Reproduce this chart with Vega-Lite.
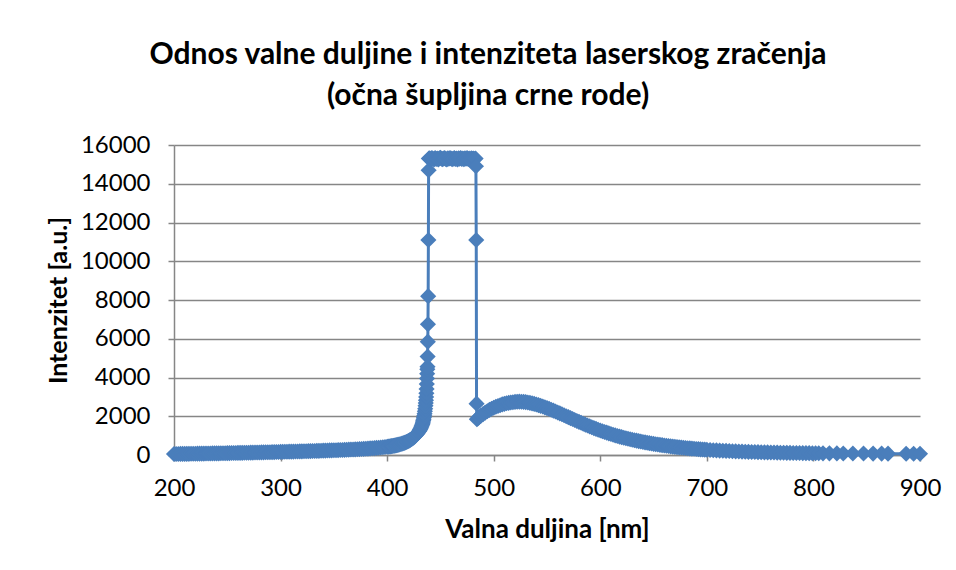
{
  "$schema": "https://vega.github.io/schema/vega-lite/v6.json",
  "autosize": {"type": "none"},
  "width": 746,
  "height": 310,
  "padding": {"left": 174, "top": 145, "right": 36, "bottom": 115},
  "background": "white",
  "config": {
    "view": {"stroke": null},
    "font": "Lato",
    "axis": {
      "labelFont": "Lato",
      "titleFont": "Lato",
      "labelColor": "#000000",
      "titleColor": "#000000",
      "domainColor": "#868686",
      "tickColor": "#868686",
      "gridColor": "#868686",
      "domainWidth": 1.5,
      "tickWidth": 1.5,
      "gridWidth": 1.5
    }
  },
  "title": {
    "text": ["Odnos valne duljine i intenziteta laserskog zračenja", "(očna šupljina crne rode)"],
    "font": "Lato",
    "fontSize": 30,
    "fontWeight": "bold",
    "color": "#000000",
    "anchor": "middle",
    "lineHeight": 41,
    "dx": -59,
    "offset": 22
  },
  "data": {
    "values": [
      {"w":200,"i":50},{"w":202,"i":52},{"w":204,"i":53},{"w":206,"i":55},{"w":208,"i":56},{"w":210,"i":58},{"w":212,"i":59},{"w":214,"i":61},{"w":216,"i":63},{"w":218,"i":64},
      {"w":220,"i":66},{"w":222,"i":68},{"w":224,"i":70},{"w":226,"i":71},{"w":228,"i":73},{"w":230,"i":75},{"w":232,"i":77},{"w":234,"i":79},{"w":236,"i":81},{"w":238,"i":83},
      {"w":240,"i":85},{"w":242,"i":87},{"w":244,"i":89},{"w":246,"i":91},{"w":248,"i":93},{"w":250,"i":96},{"w":252,"i":98},{"w":254,"i":100},{"w":256,"i":102},{"w":258,"i":104},
      {"w":260,"i":107},{"w":262,"i":109},{"w":264,"i":112},{"w":266,"i":114},{"w":268,"i":117},{"w":270,"i":119},{"w":272,"i":122},{"w":274,"i":124},{"w":276,"i":127},{"w":278,"i":129},
      {"w":280,"i":132},{"w":282,"i":134},{"w":284,"i":137},{"w":286,"i":140},{"w":288,"i":142},{"w":290,"i":145},{"w":292,"i":148},{"w":294,"i":150},{"w":296,"i":153},{"w":298,"i":156},
      {"w":300,"i":159},{"w":302,"i":162},{"w":304,"i":165},{"w":306,"i":168},{"w":308,"i":171},{"w":310,"i":174},{"w":312,"i":177},{"w":314,"i":180},{"w":316,"i":183},{"w":318,"i":186},
      {"w":320,"i":189},{"w":322,"i":192},{"w":324,"i":196},{"w":326,"i":199},{"w":328,"i":202},{"w":330,"i":206},{"w":332,"i":209},{"w":334,"i":213},{"w":336,"i":216},{"w":338,"i":220},
      {"w":340,"i":224},{"w":342,"i":228},{"w":344,"i":232},{"w":346,"i":236},{"w":348,"i":240},{"w":350,"i":244},{"w":352,"i":248},{"w":354,"i":252},{"w":356,"i":257},{"w":358,"i":261},
      {"w":360,"i":266},{"w":362,"i":271},{"w":364,"i":276},{"w":366,"i":281},{"w":368,"i":286},{"w":370,"i":292},{"w":372,"i":298},{"w":374,"i":304},{"w":376,"i":310},{"w":378,"i":317},
      {"w":380,"i":324},{"w":382,"i":331},{"w":384,"i":339},{"w":386,"i":347},{"w":388,"i":356},{"w":390,"i":365},{"w":392,"i":375},{"w":394,"i":386},{"w":396,"i":398},{"w":398,"i":411},
      {"w":400,"i":425},{"w":401,"i":432},{"w":402,"i":440},{"w":403,"i":448},{"w":404,"i":457},{"w":405,"i":466},{"w":406,"i":476},{"w":407,"i":487},{"w":408,"i":498},{"w":409,"i":510},
      {"w":410,"i":523},{"w":411,"i":537},{"w":412,"i":552},{"w":413,"i":568},{"w":414,"i":585},{"w":415,"i":604},{"w":416,"i":624},{"w":417,"i":646},{"w":418,"i":670},{"w":419,"i":696},
      {"w":420,"i":724},{"w":421,"i":755},{"w":422,"i":789},{"w":423,"i":826},{"w":424,"i":867},{"w":425,"i":912},{"w":426,"i":962},{"w":427,"i":1018},{"w":428,"i":1081},{"w":429,"i":1152},
      {"w":430,"i":1232},{"w":430.5,"i":1277},{"w":431,"i":1326},{"w":431.5,"i":1380},{"w":432,"i":1440},{"w":432.5,"i":1505},{"w":433,"i":1578},{"w":433.3,"i":1640},{"w":433.6,"i":1705},{"w":433.9,"i":1775},
      {"w":434.2,"i":1850},{"w":434.5,"i":1935},{"w":434.8,"i":2030},{"w":435.1,"i":2135},{"w":435.4,"i":2255},{"w":435.7,"i":2390},{"w":436,"i":2545},{"w":436.2,"i":2680},{"w":436.4,"i":2830},{"w":436.6,"i":3000},
      {"w":436.8,"i":3190},{"w":437,"i":3410},{"w":437.2,"i":3660},{"w":437.4,"i":3950},{"w":437.55,"i":4200},{"w":437.7,"i":4420},{"w":437.85,"i":4560},{"w":438,"i":5080},{"w":438.15,"i":5850},{"w":438.3,"i":6750},
      {"w":438.5,"i":8200},{"w":438.7,"i":11100},{"w":438.9,"i":14700},{"w":439.1,"i":15300},
      {"w":440,"i":15310},{"w":441,"i":15270},{"w":442,"i":15330},{"w":443,"i":15290},{"w":444,"i":15250},{"w":445,"i":15320},{"w":446,"i":15280},{"w":447,"i":15300},{"w":448,"i":15260},{"w":449,"i":15310},
      {"w":450,"i":15340},{"w":451,"i":15290},{"w":452,"i":15270},{"w":453,"i":15300},{"w":454,"i":15320},{"w":455,"i":15280},{"w":456,"i":15260},{"w":457,"i":15310},{"w":458,"i":15290},{"w":459,"i":15330},
      {"w":460,"i":15300},{"w":461,"i":15270},{"w":462,"i":15290},{"w":463,"i":15320},{"w":464,"i":15280},{"w":465,"i":15300},{"w":466,"i":15260},{"w":467,"i":15310},{"w":468,"i":15290},{"w":469,"i":15330},
      {"w":470,"i":15280},{"w":471,"i":15300},{"w":472,"i":15270},{"w":473,"i":15310},{"w":474,"i":15290},{"w":475,"i":15320},{"w":476,"i":15280},{"w":477,"i":15300},{"w":478,"i":15260},{"w":479,"i":15310},
      {"w":480,"i":15290},{"w":481,"i":15300},{"w":482,"i":15270},{"w":483,"i":15300},{"w":483.3,"i":14900},{"w":483.6,"i":11100},{"w":483.9,"i":2650},{"w":484.2,"i":1850},
      {"w":485,"i":1890},{"w":486,"i":1940},{"w":488,"i":2030},{"w":490,"i":2110},{"w":492,"i":2190},{"w":494,"i":2260},{"w":496,"i":2330},{"w":498,"i":2390},
      {"w":500,"i":2440},{"w":502,"i":2490},{"w":504,"i":2530},{"w":506,"i":2570},{"w":508,"i":2610},{"w":510,"i":2640},{"w":512,"i":2670},{"w":514,"i":2690},{"w":516,"i":2710},{"w":518,"i":2725},
      {"w":520,"i":2740},{"w":522,"i":2748},{"w":524,"i":2752},{"w":526,"i":2750},{"w":528,"i":2742},{"w":530,"i":2730},{"w":532,"i":2712},{"w":534,"i":2690},{"w":536,"i":2664},{"w":538,"i":2636},
      {"w":540,"i":2605},{"w":542,"i":2572},{"w":544,"i":2537},{"w":546,"i":2500},{"w":548,"i":2461},{"w":550,"i":2420},{"w":552,"i":2378},{"w":554,"i":2334},{"w":556,"i":2289},{"w":558,"i":2243},
      {"w":560,"i":2196},{"w":562,"i":2149},{"w":564,"i":2101},{"w":566,"i":2052},{"w":568,"i":2003},{"w":570,"i":1954},{"w":572,"i":1905},{"w":574,"i":1856},{"w":576,"i":1807},{"w":578,"i":1758},
      {"w":580,"i":1710},{"w":582,"i":1662},{"w":584,"i":1614},{"w":586,"i":1567},{"w":588,"i":1521},{"w":590,"i":1476},{"w":592,"i":1432},{"w":594,"i":1389},{"w":596,"i":1347},{"w":598,"i":1306},
      {"w":600,"i":1266},{"w":602,"i":1227},{"w":604,"i":1189},{"w":606,"i":1152},{"w":608,"i":1116},{"w":610,"i":1081},{"w":612,"i":1047},{"w":614,"i":1014},{"w":616,"i":982},{"w":618,"i":951},
      {"w":620,"i":921},{"w":622,"i":892},{"w":624,"i":864},{"w":626,"i":837},{"w":628,"i":811},{"w":630,"i":786},{"w":632,"i":762},{"w":634,"i":739},{"w":636,"i":716},{"w":638,"i":694},
      {"w":640,"i":673},{"w":642,"i":652},{"w":644,"i":632},{"w":646,"i":613},{"w":648,"i":594},{"w":650,"i":576},{"w":652,"i":558},{"w":654,"i":541},{"w":656,"i":524},{"w":658,"i":508},
      {"w":660,"i":492},{"w":662,"i":477},{"w":664,"i":462},{"w":666,"i":448},{"w":668,"i":434},{"w":670,"i":421},{"w":672,"i":408},{"w":674,"i":396},{"w":676,"i":384},{"w":678,"i":372},
      {"w":680,"i":361},{"w":682,"i":350},{"w":684,"i":340},{"w":686,"i":330},{"w":688,"i":320},{"w":690,"i":311},{"w":692,"i":302},{"w":694,"i":293},{"w":696,"i":285},{"w":698,"i":277},
      {"w":700,"i":269},{"w":703,"i":258},{"w":706,"i":248},{"w":709,"i":238},{"w":712,"i":229},{"w":715,"i":220},{"w":718,"i":212},{"w":721,"i":204},{"w":724,"i":196},{"w":727,"i":189},
      {"w":730,"i":182},{"w":733,"i":176},{"w":736,"i":170},{"w":739,"i":164},{"w":742,"i":158},{"w":745,"i":153},{"w":748,"i":148},{"w":751,"i":143},{"w":754,"i":138},{"w":757,"i":134},
      {"w":760,"i":130},{"w":763,"i":126},{"w":766,"i":122},{"w":769,"i":118},{"w":772,"i":115},{"w":775,"i":112},{"w":778,"i":109},{"w":781,"i":106},{"w":784,"i":103},{"w":787,"i":100},
      {"w":790,"i":98},{"w":793,"i":96},{"w":796,"i":94},{"w":799,"i":92},{"w":802,"i":90},{"w":805,"i":88},{"w":809,"i":86},{"w":815,"i":84},{"w":822,"i":82},{"w":828,"i":80},
      {"w":837,"i":78},{"w":847,"i":75},{"w":856,"i":73},{"w":864,"i":71},{"w":870,"i":70},{"w":887,"i":67},{"w":894,"i":66},{"w":900,"i":65}
    ]
  },
  "mark": {
    "type": "line",
    "color": "#4a7ebb",
    "strokeWidth": 3,
    "clip": false,
    "point": {"shape": "diamond", "size": 260, "filled": true, "color": "#4a7ebb", "opacity": 1}
  },
  "encoding": {
    "x": {
      "field": "w",
      "type": "quantitative",
      "scale": {"domain": [200, 900], "nice": false, "zero": false},
      "axis": {
        "title": "Valna duljina [nm]",
        "values": [200, 300, 400, 500, 600, 700, 800, 900],
        "grid": false,
        "tickSize": 6,
        "labelFontSize": 24,
        "labelPadding": 15,
        "labelFlush": false,
        "titleFontSize": 26,
        "titleFontWeight": "bold",
        "titlePadding": 16
      }
    },
    "y": {
      "field": "i",
      "type": "quantitative",
      "scale": {"domain": [0, 16000], "nice": false},
      "axis": {
        "title": "Intenzitet [a.u.]",
        "values": [0, 2000, 4000, 6000, 8000, 10000, 12000, 14000, 16000],
        "format": "d",
        "grid": true,
        "tickSize": 6,
        "labelFontSize": 24,
        "labelPadding": 18,
        "labelFlush": false,
        "titleFontSize": 25,
        "titleFontWeight": "bold",
        "titlePadding": 9
      }
    },
    "order": {"field": "w", "type": "quantitative"}
  }
}
